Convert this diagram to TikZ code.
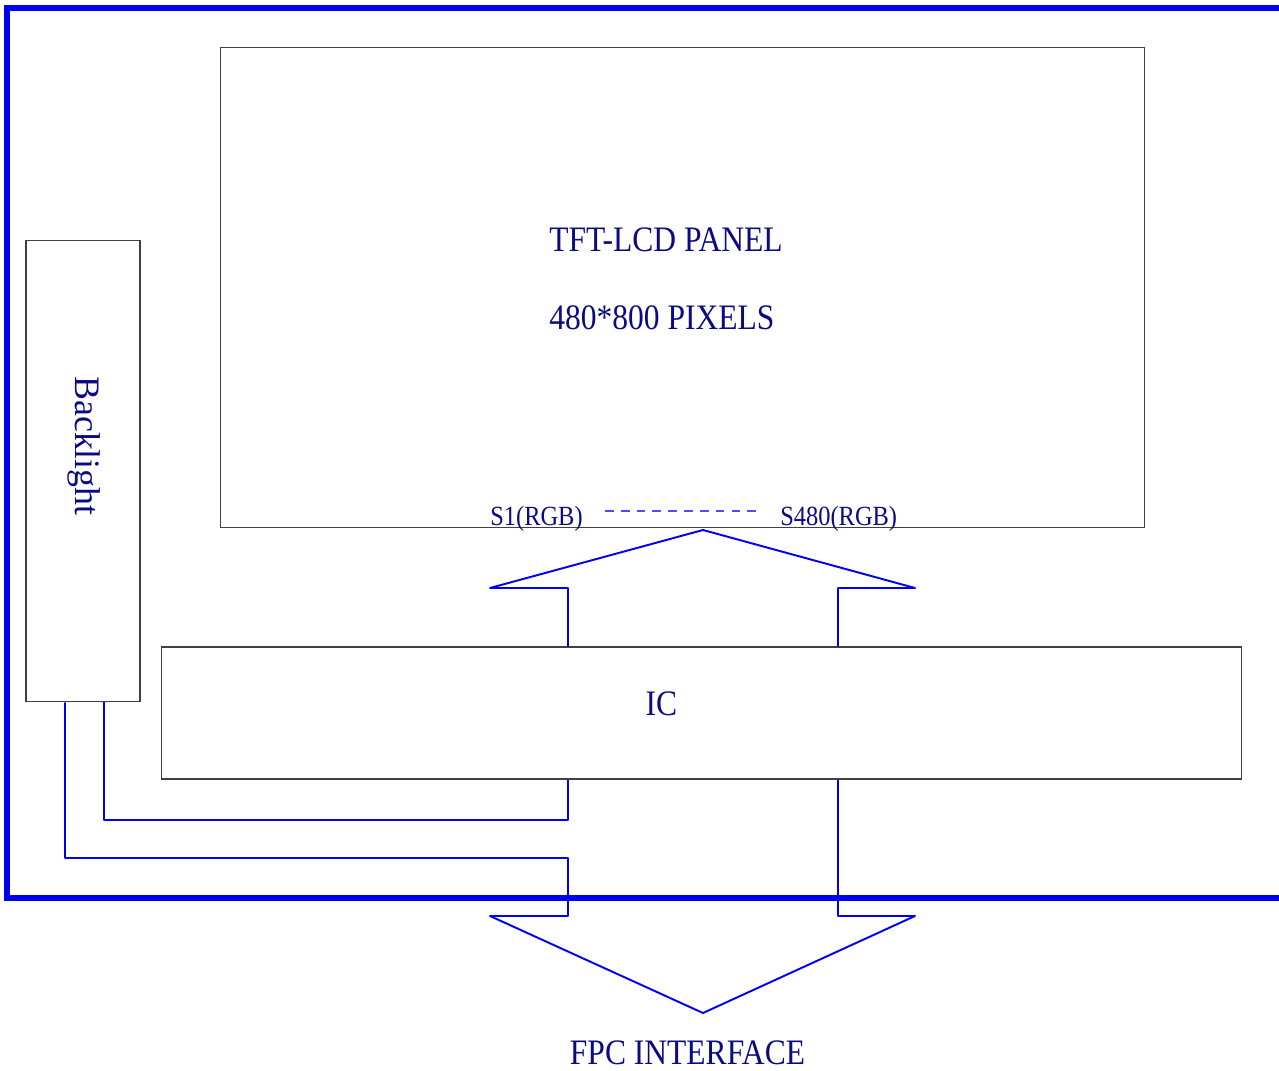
\documentclass[tikz,border=0pt]{standalone}
\usepackage{fontspec}
\setmainfont[FakeStretch=0.88]{Liberation Serif}
\newfontfamily\plainserif{Liberation Serif}
\usepackage{tikz}
\usetikzlibrary{positioning}

\definecolor{labelblue}{RGB}{10,10,130}
\definecolor{busblue}{RGB}{0,0,240}

\begin{document}
\begin{tikzpicture}[x=0.02cm,y=-0.02cm,
				box/.style={
						draw=black!75,
						line width=0.6pt,
						inner sep=0pt},
				lbl/.style={
						text=labelblue,
						inner sep=0pt,
						font=\fontsize{20.4}{24}\selectfont},
				pin/.style={
						text=labelblue,
						inner sep=0pt,
						font=\fontsize{15.8}{19}\selectfont},
				bus/.style={
						draw=busblue,
						line width=1.1pt,
						line join=round},
				frame/.style={
						draw=busblue,
						line width=3.2pt}]

			\useasboundingbox (0,0) rectangle (1279,1071);
			\draw[frame] (7,8) rectangle (1295,898);

			\node[box,minimum width=18.5cm,minimum height=9.62cm] (panel) at (682.5,287.5) {};
			\node[box,minimum width=2.28cm,minimum height=9.24cm] (backlight) at (83,471) {};
			\node[box,minimum width=21.62cm,minimum height=2.64cm] (ic) at (701.5,713) {};

			\node[lbl,anchor=base west] (tft) at (549,252) {TFT-LCD PANEL};
			\node[lbl,anchor=base west] (pix) at (549,330) {480*800 PIXELS};
			\node[pin,anchor=base west] (s1) at (490,525) {S1(RGB)};
			\node[pin,anchor=base west] (s480) at (780,525) {S480(RGB)};
			\node[lbl,anchor=base] (icl) at (661.5,715) {IC};
			\node[lbl,anchor=base] (fpc) at (687.5,1064) {FPC INTERFACE};
			\node[lbl,rotate=-90,font=\plainserif\fontsize{20.4}{24}\selectfont] (bll) at (84,446) {Backlight};

			\path (s1.base east) ++(22,-14) coordinate (dA);
			\path (s480.base west) ++(-18,-14) coordinate (dB);
			\draw[busblue!70,line width=0.6pt,dash pattern=on 5pt off 4pt] (dA) -- (dB);

			% bus arrow shafts
			\coordinate (sL) at (568,0);
			\coordinate (sR) at (838,0);
			\coordinate (bA) at (104,0);
			\coordinate (bB) at (65,0);
			\coordinate (up) at (703,530);
			\coordinate (dn) at (703,1013);

			\draw[bus] (ic.north -| sL) |- (490,588) -- (up) -- (915,588) -| (ic.north -| sR);
			\draw[bus] (ic.south -| sL) -- (568,820) -| (backlight.south -| bA);
			\draw[bus] (backlight.south -| bB) |- (568,858) |- (490,916) -- (dn) -- (915,916) -| (ic.south -| sR);

		\end{tikzpicture}
\end{document}
